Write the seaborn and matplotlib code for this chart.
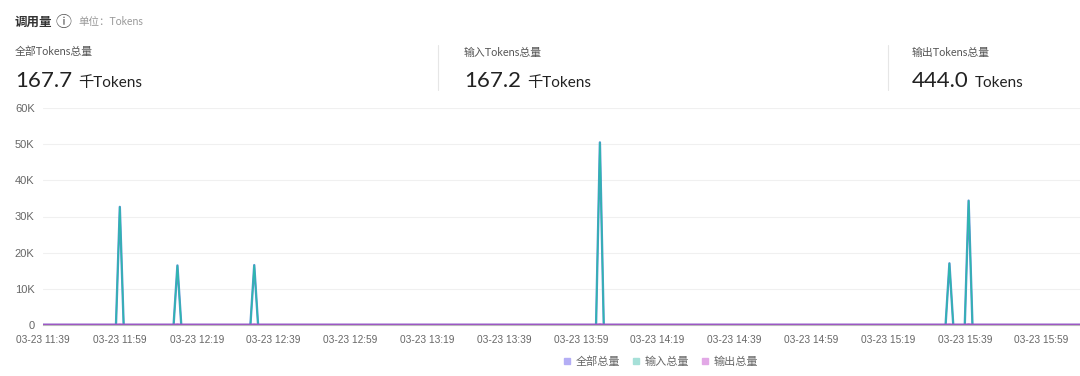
import matplotlib
matplotlib.use("Agg")
import matplotlib.pyplot as plt
import matplotlib.dates as mdates
from matplotlib.lines import Line2D
import numpy as np
import pandas as pd
import seaborn as sns

# per-minute timeline, 11:39 - 16:09 on 03-23
start_time = "2024-03-23 11:39"
end_time = "2024-03-23 16:09"

# minutes with traffic and the token counts
peak_times = ["11:59", "12:14", "12:34", "14:04", "15:35", "15:40"]
input_peaks = [32600, 16400, 16500, 50400, 17000, 34300]
output_peaks = [60, 70, 65, 95, 62, 92]

series_names = ["全部总量", "输入总量", "输出总量"]
line_colors = ["#5b93d3", "#2cb8ad", "#9d52c4"]
legend_colors = ["#b4aef5", "#a6e0d8", "#e2a8e6"]

summary_titles = ["全部Tokens总量", "输入Tokens总量", "输出Tokens总量"]
summary_values = ["167.7", "167.2", "444.0"]
summary_units = ["千Tokens", "千Tokens", "Tokens"]

# build long-format table (zero outside the listed minutes)
times = pd.date_range(start_time, end_time, freq="1min")
inp = pd.Series(0.0, index=times)
out = pd.Series(0.0, index=times)
for t, i, o in zip(peak_times, input_peaks, output_peaks):
    ts = pd.Timestamp(f"2024-03-23 {t}")
    inp[ts] = i
    out[ts] = o
total = inp + out

df = pd.concat([
    pd.DataFrame({"time": times, "value": total.values, "series": series_names[0]}),
    pd.DataFrame({"time": times, "value": inp.values, "series": series_names[1]}),
    pd.DataFrame({"time": times, "value": out.values, "series": series_names[2]}),
])

sns.set_theme(style="white")
plt.rcParams["font.family"] = ["Lato", "Noto Sans CJK SC", "DejaVu Sans"]

W, H = 1080, 376
fig = plt.figure(figsize=(W / 100, H / 100), dpi=100)
ax = fig.add_axes([43 / W, 1 - 325 / H, 1 - 43 / W, (325 - 108) / H])

# draw order: total, input, output (output on top along the baseline)
widths = {series_names[0]: 1.7, series_names[1]: 1.0, series_names[2]: 2.0}
for name, color in zip(series_names, line_colors):
    sns.lineplot(
        data=df[df["series"] == name], x="time", y="value",
        color=color, linewidth=widths[name], ax=ax, legend=False,
    )

ax.set_ylim(0, 60000)
ax.set_xlim(times[0], times[-1])
ax.set_yticks(np.arange(0, 60001, 10000))
ax.set_yticklabels(["0", "10K", "20K", "30K", "40K", "50K", "60K"])
xt = pd.date_range(start_time, end_time, freq="20min")
ax.set_xticks(xt)
ax.xaxis.set_major_formatter(mdates.DateFormatter("%m-%d %H:%M"))
ax.set_xlabel("")
ax.set_ylabel("")
ax.grid(axis="y", color="#f0f0f0", linewidth=0.8)
ax.grid(axis="x", visible=False)
for s in ["top", "right", "left"]:
    ax.spines[s].set_visible(False)
ax.spines["bottom"].set_color("#bbbbbb")
ax.spines["bottom"].set_linewidth(0.8)
ax.tick_params(axis="x", length=4, width=0.8, color="#bbbbbb", pad=3,
               labelsize=7.3, labelcolor="#666666")
ax.tick_params(axis="y", length=0, pad=6, labelsize=8, labelcolor="#666666")
for lab in ax.get_xticklabels() + ax.get_yticklabels():
    lab.set_fontfamily(["Liberation Sans", "DejaVu Sans"])

# legend
handles = [Line2D([], [], marker="s", linestyle="none", markersize=4,
                  markerfacecolor=c, markeredgecolor=c) for c in legend_colors]
fig.legend(handles, series_names, loc="center", bbox_to_anchor=(660 / W, 1 - 361 / H),
           ncol=3, frameon=False, fontsize=8, labelcolor="#666666",
           handletextpad=0.3, columnspacing=0.9, handlelength=1.0)

# header
fig.text(15 / W, 1 - 22 / H, "调用量", fontsize=9, color="#333333",
         fontweight="bold", va="center")
fig.text(56 / W, 1 - 23 / H, "\u24d8", fontsize=11.5, color="#555555", va="center",
         family=["Noto Sans CJK SC", "DejaVu Sans"])
fig.text(78 / W, 1 - 22 / H, "单位：Tokens", fontsize=7.6, color="#999999", va="center")

block_x = [15, 464, 912]
for bx, t, v, u in zip(block_x, summary_titles, summary_values, summary_units):
    fig.text(bx / W, 1 - 52 / H, t, fontsize=7.8, color="#555555", va="center")
    tv = fig.text(bx / W, 1 - 81 / H, v, fontsize=16, color="#222222", va="center")
    fig.canvas.draw()
    bb = tv.get_window_extent()
    fig.text((bb.x1 + 6) / W, 1 - 83 / H, u, fontsize=11, color="#222222", va="center")

for sx in [438, 888]:
    fig.add_artist(Line2D([sx / W, sx / W], [1 - 45 / H, 1 - 90 / H],
                          color="#e6e6e6", linewidth=0.8))

fig.savefig("out.png", dpi=100)
